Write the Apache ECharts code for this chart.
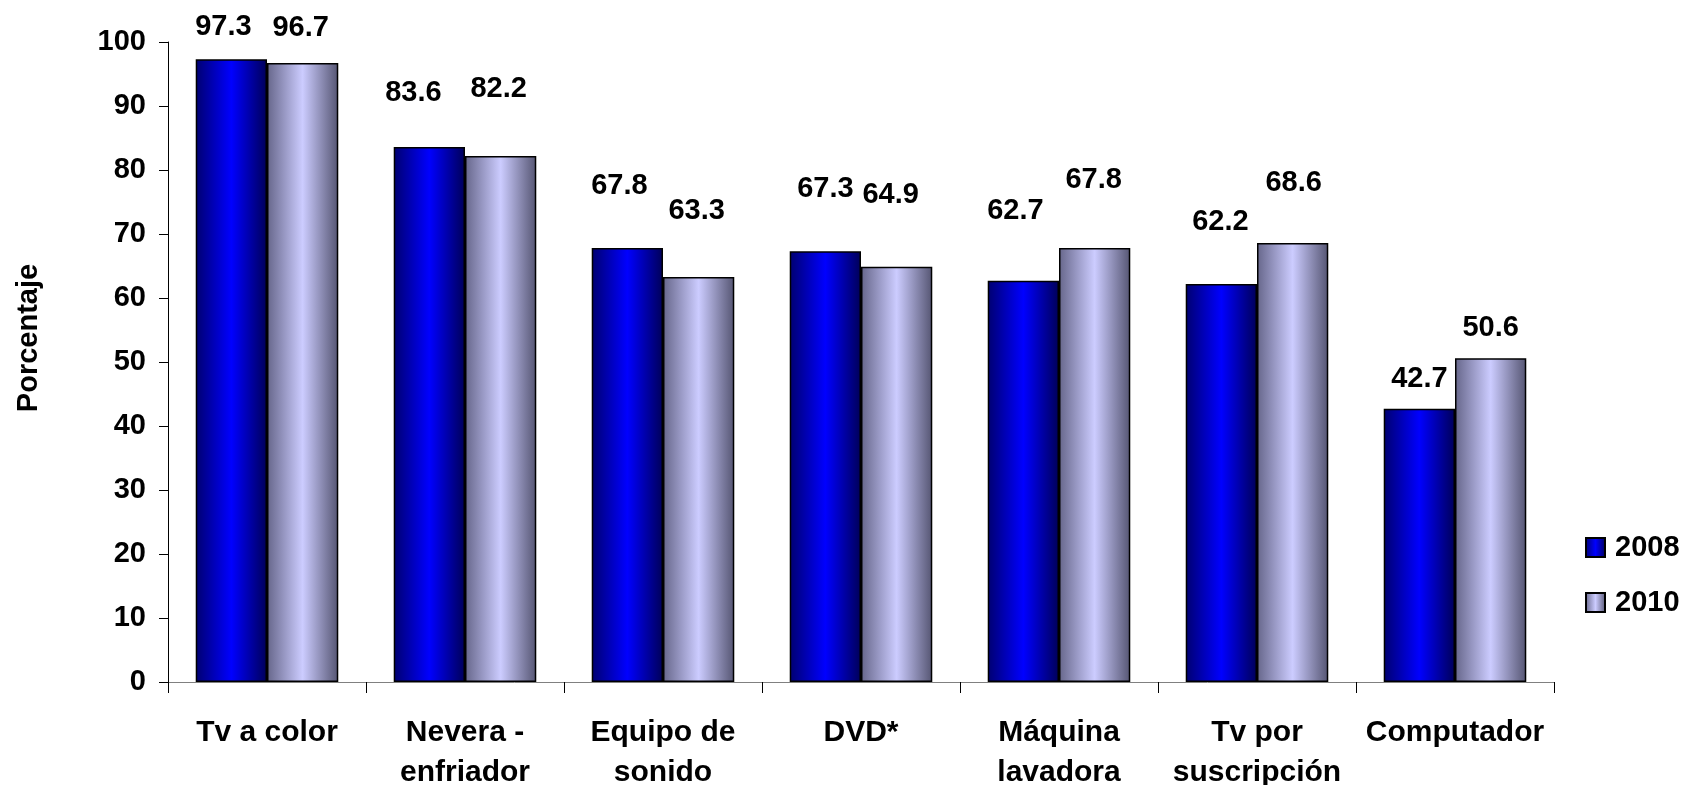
<!DOCTYPE html>
<html>
<head>
<meta charset="utf-8">
<script src="https://cdn.jsdelivr.net/npm/echarts@6/dist/echarts.min.js"></script>
<style>
  html, body { margin: 0; padding: 0; background: #fff; }
  #chart { width: 1681px; height: 785px; }
</style>
</head>
<body>
<div id="chart"></div>
<script>
// ---- data ----
var categories = ["Tv a color", "Nevera -\nenfriador", "Equipo de\nsonido", "DVD*", "Máquina\nlavadora", "Tv por\nsuscripción", "Computador"];
var seriesNames = ["2008", "2010"];
var values2008 = [97.3, 83.6, 67.8, 67.3, 62.7, 62.2, 42.7];
var values2010 = [96.7, 82.2, 63.3, 64.9, 67.8, 68.6, 50.6];
var yTicks = { min: 0, max: 100, interval: 10 };
var yTitle = "Porcentaje";

// ---- label placement (style only) ----
var labelOffset2008 = [[-8, -18], [-16, -39], [-8, -48], [0, -48], [-8, -55], [-1, -47], [0, -15]];
var labelOffset2010 = [[-2, -21], [-2, -52], [-2, -51], [-6, -57], [-1, -54], [1, -45], [0, -16]];

var FONT = "'Liberation Sans', Arial, sans-serif";

function grad(stops) {
  return new echarts.graphic.LinearGradient(0, 0, 1, 0, stops);
}
var color2008 = grad([
  { offset: 0, color: '#000070' },
  { offset: 0.5, color: '#0000ff' },
  { offset: 1, color: '#000058' }
]);
var color2010 = grad([
  { offset: 0, color: '#66668a' },
  { offset: 0.5, color: '#ccccff' },
  { offset: 1, color: '#555572' }
]);

function buildData(values, offsets) {
  return values.map(function (v, i) {
    return { value: v, label: { offset: offsets[i] } };
  });
}

var labelBase = {
  show: true,
  position: 'top',
  distance: 0,
  color: '#000',
  fontFamily: FONT,
  fontWeight: 'bold',
  fontSize: 29,
  formatter: function (p) { return p.value.toFixed(1); }
};

var chart = echarts.init(document.getElementById('chart'), null, { renderer: 'canvas' });
chart.setOption({
  animation: false,
  backgroundColor: '#ffffff',
  grid: { left: 168, right: 127, top: 42, bottom: 103, containLabel: false, outerBoundsMode: 'none' },
  legend: {
    orient: 'vertical',
    left: 1585,
    top: 533,
    padding: 0,
    itemWidth: 19,
    itemHeight: 19,
    itemGap: 26,
    icon: 'rect',
    data: seriesNames,
    textStyle: { fontFamily: FONT, fontWeight: 'bold', fontSize: 29, color: '#000', padding: [0, 0, 0, 5] }
  },
  xAxis: {
    type: 'category',
    data: categories,
    axisLine: { show: true, lineStyle: { color: '#808080', width: 1 } },
    axisTick: { show: true, alignWithLabel: false, length: 11, lineStyle: { color: '#000', width: 1 } },
    axisLabel: {
      interval: 0,
      margin: 31,
      color: '#000',
      fontFamily: FONT,
      fontWeight: 'bold',
      fontSize: 30,
      lineHeight: 40
    },
    splitLine: { show: false }
  },
  yAxis: {
    type: 'value',
    min: yTicks.min,
    max: yTicks.max,
    interval: yTicks.interval,
    axisLine: { show: true, lineStyle: { color: '#000', width: 1 } },
    axisTick: { show: true, length: 9, lineStyle: { color: '#000', width: 1 } },
    axisLabel: {
      margin: 22,
      color: '#000',
      fontFamily: FONT,
      fontWeight: 'bold',
      fontSize: 29
    },
    splitLine: { show: false }
  },
  graphic: [{
    type: 'text',
    x: 29,
    y: 338,
    rotation: Math.PI / 2,
    style: {
      text: yTitle,
      fill: '#000',
      font: 'bold 29px ' + FONT,
      align: 'center',
      verticalAlign: 'middle'
    }
  }],
  series: [
    {
      name: seriesNames[0],
      type: 'bar',
      barGap: '0%',
      barCategoryGap: '28%',
      data: buildData(values2008, labelOffset2008),
      itemStyle: { color: color2008, borderColor: '#000', borderWidth: 1.5 },
      label: labelBase
    },
    {
      name: seriesNames[1],
      type: 'bar',
      barGap: '0%',
      barCategoryGap: '28%',
      data: buildData(values2010, labelOffset2010),
      itemStyle: { color: color2010, borderColor: '#000', borderWidth: 1.5 },
      label: labelBase
    }
  ]
});
</script>
</body>
</html>
